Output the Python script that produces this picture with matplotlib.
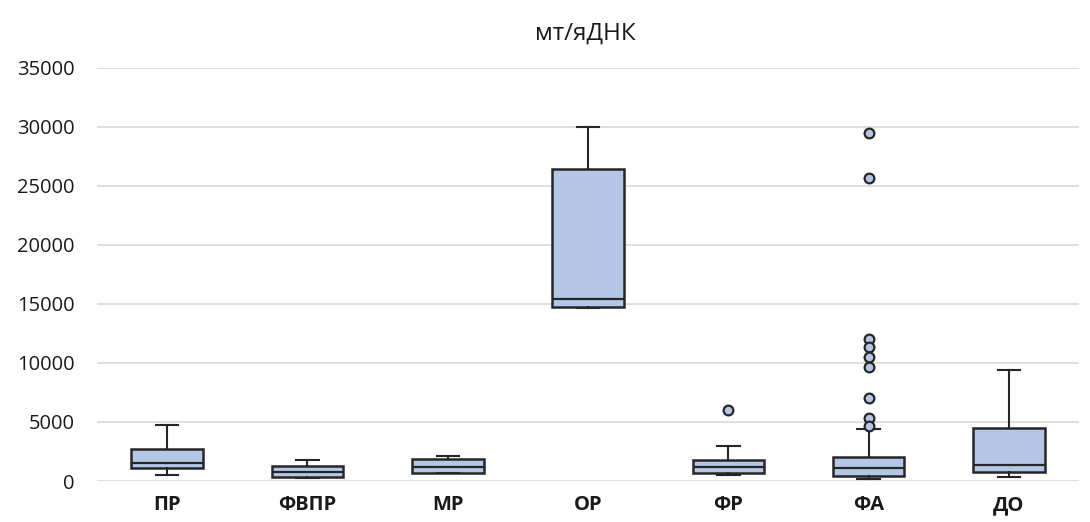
import matplotlib
matplotlib.use("Agg")
import matplotlib.pyplot as plt

categories = ["ПР", "ФВПР", "МР", "ОР", "ФР", "ФА", "ДО"]
whislo = [510, 230, 650, 14630, 510, 140, 310]
q1 = [1070, 310, 700, 14770, 700, 450, 790]
med = [1500, 790, 1210, 15420, 1210, 1070, 1360]
q3 = [2690, 1270, 1860, 26400, 1780, 2060, 4520]
whishi = [4750, 1780, 2090, 29970, 2970, 4430, 9400]
fliers = [[], [], [], [], [6020],
          [29460, 25650, 12000, 11330, 10530, 9630, 7000, 5380, 4680], []]
yticks = [0, 5000, 10000, 15000, 20000, 25000, 30000, 35000]

plt.rcParams['font.family'] = ['Open Sans', 'DejaVu Sans']

fig = plt.figure(figsize=(10.9, 5.22), dpi=100)
ax = fig.add_axes([0.089, 0.0785, 0.901, 0.7915])

stats = []
for i, name in enumerate(categories):
    stats.append(dict(label=name, whislo=whislo[i], q1=q1[i], med=med[i],
                      q3=q3[i], whishi=whishi[i], fliers=fliers[i]))

fill = "#B4C7E7"
edge = "#262626"
ax.bxp(stats, positions=range(len(categories)), widths=0.51, capwidths=0.16,
       patch_artist=True, showfliers=True,
       boxprops=dict(facecolor=fill, edgecolor=edge, linewidth=1.8),
       medianprops=dict(color=edge, linewidth=1.6),
       whiskerprops=dict(color=edge, linewidth=1.5),
       capprops=dict(color=edge, linewidth=1.5),
       flierprops=dict(marker='o', markerfacecolor=fill, markeredgecolor=edge,
                       markersize=7, markeredgewidth=1.6, linestyle='none'),
       zorder=3)

ax.set_xlim(-0.5, len(categories) - 0.5)
ax.set_ylim(0, 35000)
ax.set_yticks(yticks)
ax.set_yticklabels([str(v) for v in yticks], fontsize=14.5)
ax.set_xticks(range(len(categories)))
ax.set_xticklabels(categories, fontsize=14.5, fontweight='bold')
ax.tick_params(axis='both', length=0, colors='#1a1a1a')
ax.tick_params(axis='y', pad=16)
ax.tick_params(axis='x', pad=10)
ax.grid(axis='y', color='#D9D9D9', linewidth=1.2, zorder=0)
ax.set_axisbelow(True)
for s in ax.spines.values():
    s.set_visible(False)

fig.text(0.537, 0.935, "мт/яДНК", ha='center', va='center', fontsize=17.5, color='#1a1a1a')

fig.savefig("out.png", dpi=100)
